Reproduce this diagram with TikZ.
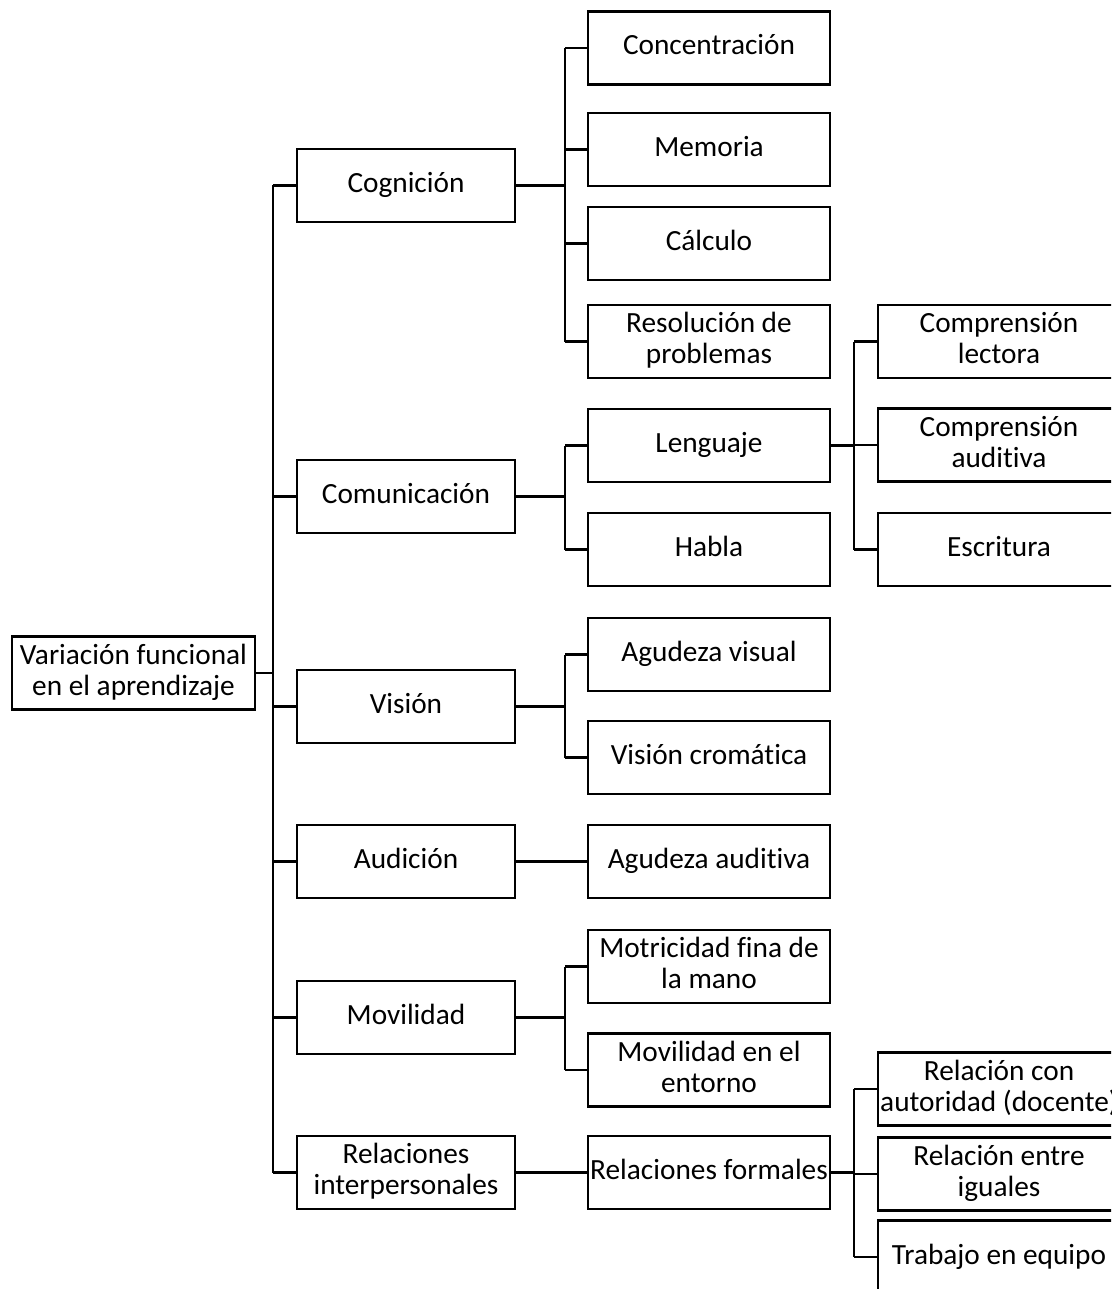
\documentclass[tikz,border=0pt]{standalone}
\usepackage{fontspec}
\setmainfont{Carlito}[Ligatures={NoCommon,NoRequired,NoContextual}]
\newcommand{\boxstrut}{\rule[-7pt]{0pt}{28pt}}
\begin{document}
\begin{tikzpicture}[x=1pt,y=-1pt,
  box/.style={draw, line width=2.2pt, inner sep=0pt, align=center,
    minimum height=73pt, font=\fontsize{29.3}{31}\selectfont,
    execute at begin node=\boxstrut, execute at end node=\boxstrut},
  lone/.style={box, minimum width=218pt},
  ltwo/.style={box, minimum width=242pt},
  link/.style={line width=2.2pt}]
\useasboundingbox (0,0) rectangle (1111,1289);
\clip (0,0) rectangle (1111,1289);

% root
\node[box, minimum width=243pt] (root) at (133.5,673) {Variación funcional\\en el aprendizaje};

% first level
\node[lone] (cog) at (406,185.5) {Cognición};
\node[lone] (com) at (406,496.5) {Comunicación};
\node[lone] (vis) at (406,706.5) {Visión};
\node[lone] (aud) at (406,861.5) {Audición};
\node[lone] (mov) at (406,1017.5) {Movilidad};
\node[lone] (rel) at (406,1172.5) {Relaciones\\interpersonales};

% second level
\node[ltwo] (conc) at (709,48) {Concentración};
\node[ltwo] (mem)  at (709,149.5) {Memoria};
\node[ltwo] (calc) at (709,243.5) {Cálculo};
\node[ltwo] (reso) at (709,341.5) {Resolución de\\problemas};
\node[ltwo] (leng) at (709,445.5) {Lenguaje};
\node[ltwo] (habl) at (709,549.5) {Habla};
\node[ltwo] (agv)  at (709,654.5) {Agudeza visual};
\node[ltwo] (vcr)  at (709,757.5) {Visión cromática};
\node[ltwo] (aau)  at (709,861.5) {Agudeza auditiva};
\node[ltwo] (mfm)  at (709,966.5) {Motricidad fina de\\la mano};
\node[ltwo] (ment) at (709,1070) {Movilidad en el\\entorno};
\node[ltwo] (rfor) at (709,1172.5) {Relaciones formales};

% third level
\node[ltwo] (clec) at (999,341.5) {Comprensión\\lectora};
\node[ltwo] (caud) at (999,445) {Comprensión\\auditiva};
\node[ltwo] (escr) at (999,549.5) {Escritura};
\node[ltwo] (raut) at (999,1089) {Relación con\\autoridad (docente)};
\node[ltwo] (rigu) at (999,1174) {Relación entre\\iguales};
\node[ltwo] (treq) at (999,1257) {Trabajo en equipo};

% bus lines
\coordinate (t0) at (273,0);
\coordinate (t1) at (565,0);
\coordinate (t2) at (854,0);

% root to first level
\draw[link] (root.east) -- (root.east -| t0);
\draw[link] (cog.west -| t0) -- (rel.west -| t0);
\foreach \n in {cog,com,vis,aud,mov,rel}
  \draw[link] (\n.west) -- (\n.west -| t0);

% Cognición
\draw[link] (cog.east) -- (cog.east -| t1);
\draw[link] (conc.west -| t1) -- (reso.west -| t1);
\foreach \n in {conc,mem,calc,reso}
  \draw[link] (\n.west) -- (\n.west -| t1);

% Comunicación
\draw[link] (com.east) -- (com.east -| t1);
\draw[link] (leng.west -| t1) -- (habl.west -| t1);
\foreach \n in {leng,habl}
  \draw[link] (\n.west) -- (\n.west -| t1);

% Visión
\draw[link] (vis.east) -- (vis.east -| t1);
\draw[link] (agv.west -| t1) -- (vcr.west -| t1);
\foreach \n in {agv,vcr}
  \draw[link] (\n.west) -- (\n.west -| t1);

% Audición
\draw[link] (aud.east) -- (aau.west);

% Movilidad
\draw[link] (mov.east) -- (mov.east -| t1);
\draw[link] (mfm.west -| t1) -- (ment.west -| t1);
\foreach \n in {mfm,ment}
  \draw[link] (\n.west) -- (\n.west -| t1);

% Relaciones interpersonales
\draw[link] (rel.east) -- (rfor.west);

% Lenguaje
\draw[link] (leng.east) -- (leng.east -| t2);
\draw[link] (clec.west -| t2) -- (escr.west -| t2);
\foreach \n in {clec,caud,escr}
  \draw[link] (\n.west) -- (\n.west -| t2);

% Relaciones formales
\draw[link] (rfor.east) -- (rfor.east -| t2);
\draw[link] (raut.west -| t2) -- (treq.west -| t2);
\foreach \n in {raut,rigu,treq}
  \draw[link] (\n.west) -- (\n.west -| t2);
\end{tikzpicture}
\end{document}
